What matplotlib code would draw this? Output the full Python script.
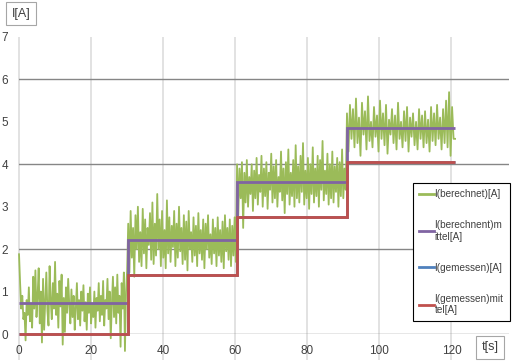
import numpy as np
import matplotlib
matplotlib.use('Agg')
import matplotlib.pyplot as plt
from matplotlib.lines import Line2D

plt.rcParams['font.family'] = ['Liberation Sans Narrow', 'Liberation Sans', 'DejaVu Sans']

# step edges [s] and levels [A]
edges = [0, 30.3, 60.5, 91.0, 121.0]
mean_levels = [0.73, 2.21, 3.58, 4.86]
measured_levels = [0.0, 1.38, 2.76, 4.05]

# I(berechnet)[A], one list per step
s1 = [1.88, 1.2, 0.6, 0.9, 0.35, 0.5, -0.15, 0.8, 0.45, 1.1, 0.3, 0.7, 0.15, 1.35, 0.6, 1.5,
      0.4, 0.9, 1.55, 0.25, 1.0, -0.2, 1.3, 0.1, 0.75, 1.45, 0.55, 0.2, 1.6, 0.8, 0.35, 1.2,
      0.6, 1.7, 0.45, 0.95, 0.15, 1.25, 0.65, 1.4, -0.25, 0.85, 0.05, 1.1, 0.5, 1.3, 0.7, 0.25,
      1.05, 0.4, 0.9, 0.1, 0.6, 1.2, 0.35, 0.8, 0.2, 1.0, 0.55, 1.15, 0.3, 0.75, 0.1, 0.95,
      0.5, 1.1, 0.25, 0.7, 0.4, 1.0, 0.15, 0.85, 0.55, 1.2, 0.3, 0.9, 0.45, 1.25, 0.2, 0.8,
      0.6, 1.3, 0.35, 1.0, -0.1, 0.7, 1.35, 0.4, 1.1, 0.25, 1.4, 0.5, 0.9, -0.3, 1.2, 0.6,
      1.45, -0.4, 1.0, 1.5]
s2 = [2.6, 1.45, 2.9, 1.8, 2.5, 1.35, 2.8, 2.0, 3.0, 1.7, 2.4, 1.6, 2.95, 1.9, 2.7, 1.55,
      2.5, 2.1, 2.85, 1.75, 3.1, 1.65, 2.6, 1.85, 3.3, 2.0, 2.7, 1.6, 2.9, 1.8, 2.45, 1.55,
      3.15, 1.9, 2.75, 1.7, 2.55, 2.05, 2.9, 1.6, 2.6, 1.8, 3.0, 1.95, 2.5, 1.65, 2.8, 1.75,
      2.65, 1.5, 2.9, 2.0, 2.4, 1.7, 2.75, 1.85, 2.55, 1.6, 2.85, 1.9, 2.45, 1.75, 2.7, 1.55,
      2.6, 2.0, 2.8, 1.8, 2.35, 1.65, 2.7, 1.9, 2.5, 1.6, 2.75, 1.85, 2.45, 1.7, 2.65, 1.55,
      2.8, 1.95, 2.5, 1.75, 2.7, 1.6, 2.55, 1.85, 2.75, 1.7]
s3 = [4.0, 2.8, 3.9, 3.2, 4.05, 2.5, 3.8, 3.1, 4.1, 3.0, 3.7, 3.3, 4.0, 2.9, 3.85, 3.2,
      4.15, 3.05, 3.75, 3.35, 4.2, 3.0, 3.9, 3.25, 4.05, 2.95, 3.8, 3.4, 4.25, 3.1, 3.95, 3.2,
      4.1, 3.0, 3.7, 3.35, 4.3, 3.15, 3.9, 2.85, 4.05, 3.3, 4.35, 3.05, 3.8, 3.25, 4.1, 3.0,
      4.45, 3.2, 3.95, 3.1, 4.2, 3.35, 4.5, 3.05, 3.85, 3.2, 4.15, 2.95, 4.0, 3.3, 4.4, 3.1,
      3.9, 3.25, 4.2, 3.0, 4.1, 3.4, 4.55, 3.15, 3.85, 3.3, 4.25, 3.05, 4.0, 3.2, 4.3, 3.1,
      3.95, 3.35, 4.15, 3.0, 4.05, 3.25, 4.35, 3.2, 3.9, 3.4]
s4 = [5.2, 4.3, 5.4, 4.6, 5.3, 4.4, 5.55, 4.5, 5.1, 4.2, 5.45, 4.7, 5.25, 4.35, 5.6, 4.55,
      5.0, 4.4, 5.35, 4.65, 5.15, 4.3, 5.5, 4.6, 5.2, 4.45, 5.4, 4.25, 5.05, 4.7, 5.3, 4.5,
      5.15, 4.35, 5.45, 4.6, 5.0, 4.4, 5.25, 4.55, 5.35, 4.3, 5.1, 4.65, 5.2, 4.45, 5.0, 4.35,
      5.3, 4.6, 5.15, 4.4, 5.25, 4.5, 5.05, 4.3, 5.35, 4.55, 5.2, 4.45, 5.4, 4.6, 5.1, 4.35,
      5.3, 4.5, 5.5, 4.4, 5.7, 4.2, 5.35, 4.6]
segments = [s1, s2, s3, s4]

labels = ['I(berechnet)[A]', 'I(berechnent)m\nittel[A]', 'I(gemessen)[A]', 'I(gemessen)mit\ntel[A]']
colors = ['#9BBB59', '#8064A2', '#4F81BD', '#C0504D']

# time axis for the noisy signal
t = []
for i, seg in enumerate(segments):
    t.extend(np.linspace(edges[i], edges[i + 1], len(seg), endpoint=False))
t.append(edges[-1])
vals = s1 + s2 + s3 + s4 + [s4[-1]]

fig = plt.figure(figsize=(5.17, 3.62), dpi=100)
ax = fig.add_axes([0.0368, 0.0773, 0.948, 0.8205])

ax.plot(t, vals, color=colors[0], lw=1.3, clip_on=False, zorder=3)
ax.stairs(mean_levels, edges, baseline=None, color=colors[1], lw=2, zorder=4)
ax.stairs(measured_levels, edges, baseline=None, color=colors[2], lw=2, zorder=4, clip_on=False)
ax.stairs(measured_levels, edges, baseline=None, color=colors[3], lw=2, zorder=5, clip_on=False)

ax.set_xlim(0, 136)
ax.set_ylim(0, 7)
for s in ['top', 'right', 'left', 'bottom']:
    ax.spines[s].set_visible(False)

# grid lines
for x in range(0, 121, 20):
    ax.vlines(x, -0.62, 7, color='#DDDDDD', lw=1.2, clip_on=False, zorder=1)
for y in [0, 2, 4, 6]:
    ax.axhline(y, color='#868686', lw=1, zorder=2)

ax.set_xticks(range(0, 121, 20))
ax.set_yticks(range(0, 8))
ax.tick_params(length=0, labelsize=8.5, colors='#404040')
ax.tick_params(axis='x', pad=8)
ax.tick_params(axis='y', pad=8)

# legend box on the right
handles = [Line2D([], [], color=c, lw=2) for c in colors]
leg = ax.legend(handles, labels, loc='upper left', bbox_to_anchor=(0.799, 0.494),
                bbox_transform=fig.transFigure, borderaxespad=0, fontsize=7.2,
                fancybox=False, edgecolor='black', framealpha=1, handlelength=1.5,
                handletextpad=0.05, labelspacing=2.1, borderpad=0.6)
leg.get_frame().set_linewidth(0.8)
for txt in leg.get_texts():
    txt.set_color('#404040')

# axis titles in boxes
box = dict(boxstyle='square,pad=0.45', fc='white', ec='#A6A6A6', lw=0.8)
fig.text(0.041, 0.962, 'I[A]', ha='center', va='center', fontsize=9, color='#404040', bbox=box)
fig.text(0.948, 0.041, 't[s]', ha='center', va='center', fontsize=9, color='#404040', bbox=box)

plt.savefig('out.png', dpi=100)
